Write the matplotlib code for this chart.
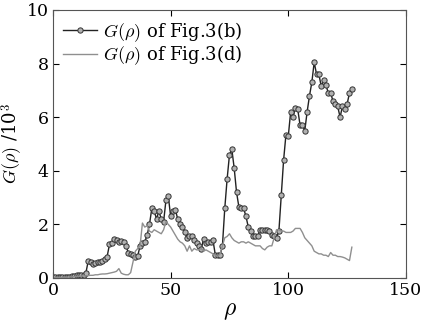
import numpy as np
import matplotlib
matplotlib.use("Agg")
import matplotlib.pyplot as plt

plt.rcParams['font.family'] = 'DejaVu Serif'
plt.rcParams['mathtext.fontset'] = 'cm'

# G(rho) of Fig.3(b), in units of 10^3, rho = 0..127
g_b = [0.05, 0.03, 0.05, 0.04, 0.03, 0.03, 0.04, 0.05, 0.06, 0.08,
       0.10, 0.12, 0.12, 0.13, 0.20, 0.65, 0.58, 0.52, 0.55, 0.58,
       0.60, 0.62, 0.70, 0.80, 1.25, 1.30, 1.45, 1.40, 1.35, 1.38,
       1.35, 1.20, 0.95, 0.90, 0.85, 0.80, 0.82, 1.20, 1.30, 1.35,
       1.60, 2.00, 2.60, 2.50, 2.20, 2.50, 2.20, 2.10, 2.90, 3.05,
       2.30, 2.50, 2.55, 2.20, 2.00, 1.90, 1.70, 1.50, 1.55, 1.55,
       1.40, 1.30, 1.20, 1.10, 1.45, 1.30, 1.35, 1.35, 1.40, 0.85,
       0.85, 0.85, 1.20, 2.60, 3.70, 4.60, 4.80, 4.10, 3.20, 2.65,
       2.60, 2.60, 2.30, 1.90, 1.75, 1.55, 1.55, 1.55, 1.80, 1.80,
       1.80, 1.80, 1.75, 1.60, 1.55, 1.50, 1.75, 3.10, 4.40, 5.35,
       5.30, 6.20, 6.00, 6.35, 6.30, 5.70, 5.70, 5.50, 6.20, 6.80,
       7.30, 8.05, 7.60, 7.60, 7.15, 7.40, 7.20, 6.90, 6.90, 6.60,
       6.50, 6.40, 6.00, 6.40, 6.30, 6.50, 6.90, 7.05]

# G(rho) of Fig.3(d), in units of 10^3, rho = 0..127
g_d = [0.02, 0.02, 0.02, 0.02, 0.03, 0.03, 0.03, 0.04, 0.04, 0.05,
       0.05, 0.06, 0.07, 0.08, 0.08, 0.09, 0.10, 0.10, 0.12, 0.12,
       0.14, 0.15, 0.15, 0.16, 0.18, 0.20, 0.22, 0.25, 0.35, 0.18,
       0.14, 0.12, 0.12, 0.20, 0.60, 1.00, 1.10, 1.20, 2.05, 1.90,
       1.95, 1.75, 1.70, 1.80, 1.75, 1.70, 1.65, 1.80, 2.10, 2.00,
       1.90, 1.75, 1.60, 1.45, 1.35, 1.30, 1.20, 1.00, 1.20, 1.00,
       1.10, 1.05, 1.05, 1.10, 1.00, 1.05, 1.00, 0.95, 0.90, 0.85,
       0.80, 0.90, 1.20, 1.50, 1.55, 1.65, 1.50, 1.40, 1.35, 1.30,
       1.35, 1.35, 1.30, 1.35, 1.30, 1.25, 1.20, 1.20, 1.20, 1.10,
       1.05, 1.15, 1.20, 1.20, 1.50, 1.80, 1.80, 1.75, 1.75, 1.70,
       1.70, 1.70, 1.75, 1.85, 1.85, 1.85, 1.70, 1.50, 1.40, 1.30,
       1.20, 1.00, 0.95, 0.90, 0.90, 0.85, 0.85, 0.80, 0.95, 0.85,
       0.85, 0.80, 0.80, 0.78, 0.75, 0.70, 0.65, 1.15]

rho = np.arange(len(g_b))

fig = plt.figure(figsize=(4.22, 3.30), dpi=100)
ax = fig.add_axes([0.1256, 0.1576, 0.8364, 0.8121])

ax.plot(rho, g_b, color='#222222', lw=1.0, marker='o', markersize=3.8,
        markerfacecolor='#b0b0b0', markeredgecolor='#333333', markeredgewidth=0.7,
        label=r'$G(\rho)$ of Fig.3(b)')
ax.plot(rho[:len(g_d)], g_d, color='#8f8f8f', lw=1.0, label=r'$G(\rho)$ of Fig.3(d)')

ax.set_xlim(0, 150)
ax.set_ylim(0, 10)
ax.set_xticks([0, 50, 100, 150])
ax.set_yticks([0, 2, 4, 6, 8, 10])
ax.tick_params(direction='in', top=True, right=True, labelsize=12.5, length=4, pad=3)
for s in ax.spines.values():
    s.set_color('#555555')

ax.set_xlabel(r'$\rho$', fontsize=17, labelpad=0)
ax.set_ylabel(r'$G(\rho)$ /10$^3$', fontsize=13)
ax.yaxis.set_label_coords(-0.08, 0.5)

ax.legend(loc='upper left', frameon=False, fontsize=13, numpoints=1,
          handlelength=1.9, handletextpad=0.3, borderaxespad=0.35,
          labelspacing=0.0, borderpad=0.2)

fig.savefig('out.png', dpi=100)
